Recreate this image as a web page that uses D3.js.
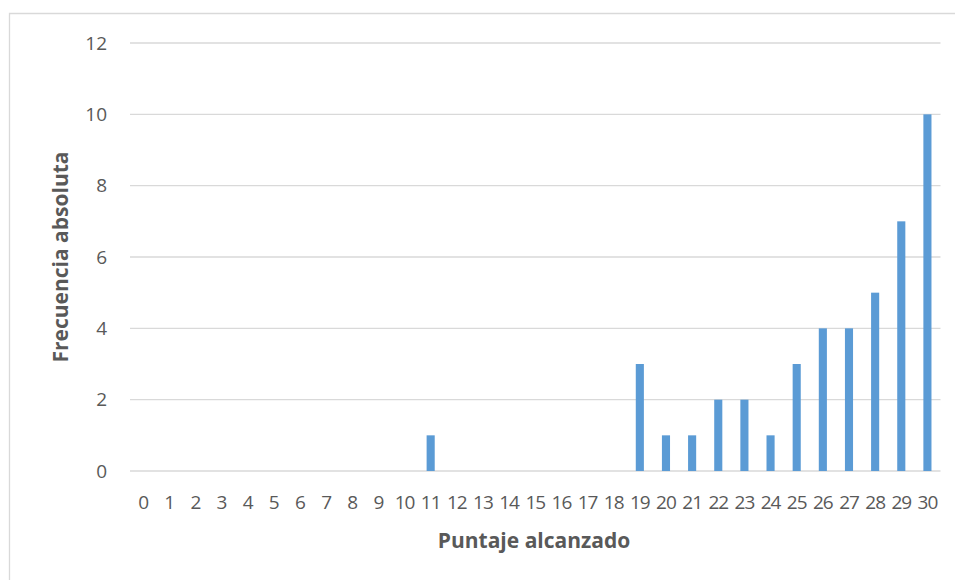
<!DOCTYPE html>
<html>
<head>
<meta charset="utf-8">
<script src="https://cdn.jsdelivr.net/npm/d3@7"></script>
<style>
  body { margin: 0; background: #fff; }
  text { font-family: "Open Sans", "Noto Sans", sans-serif; fill: #595959; }
</style>
</head>
<body>
<script>
// data
var puntajes = d3.range(0, 31);
var frecuencias = [0, 0, 0, 0, 0, 0, 0, 0, 0, 0, 0, 1, 0, 0, 0, 0, 0, 0, 0, 3, 1, 1, 2, 2, 1, 3, 4, 4, 5, 7, 10];
var yTicks = [0, 2, 4, 6, 8, 10, 12];

var dataset = puntajes.map((p, i) => [p, frecuencias[i]]);

var svgWidth = 955, svgHeight = 580;
var plotLeft = 130, plotRight = 940.5, plotTop = 43, plotBottom = 471;

var svg = d3.select('body')
    .append('svg')
    .attr('width', svgWidth)
    .attr('height', svgHeight);

// chart frame
svg.append('path')
    .attr('d', `M9.5,${svgHeight + 2} V13.5 H${svgWidth + 2}`)
    .attr('fill', 'none')
    .attr('stroke', '#d9d9d9')
    .attr('stroke-width', 1.3);

// scales
var xScale = d3.scaleBand()
    .domain(puntajes)
    .range([plotLeft, plotRight])
    .paddingInner(0.69)
    .paddingOuter(0.345);

var yScale = d3.scaleLinear()
    .domain([0, 12])
    .range([plotBottom, plotTop]);

// gridlines
svg.append('g')
    .selectAll('line')
    .data(yTicks)
    .enter()
    .append('line')
    .attr('x1', plotLeft)
    .attr('x2', plotRight)
    .attr('y1', d => yScale(d))
    .attr('y2', d => yScale(d))
    .attr('stroke', '#d9d9d9')
    .attr('stroke-width', 1.3);

// y axis labels
var yAxis = d3.axisLeft(yScale).tickValues(yTicks).tickSize(0).tickPadding(0);
svg.append('g')
    .attr('transform', `translate(107, 0)`)
    .call(yAxis)
    .call(g => g.select('.domain').remove())
    .selectAll('text')
    .style('font-size', '19px')
    .attr('fill', '#595959');

// bars
svg.append('g')
    .selectAll('rect')
    .data(dataset)
    .enter()
    .append('rect')
    .attr('x', d => xScale(d[0]))
    .attr('y', d => yScale(d[1]))
    .attr('width', xScale.bandwidth())
    .attr('height', d => plotBottom - yScale(d[1]))
    .attr('fill', '#5b9bd5');

// x axis labels
var xAxis = d3.axisBottom(xScale).tickSize(0).tickPadding(0);
svg.append('g')
    .attr('transform', `translate(0, 495)`)
    .call(xAxis)
    .call(g => g.select('.domain').remove())
    .selectAll('text')
    .style('font-size', '19px')
    .style('letter-spacing', '-1px')
    .attr('fill', '#595959')
    .attr('dy', '0.71em');

// axis titles
svg.append('text')
    .attr('x', 534)
    .attr('y', 548)
    .attr('text-anchor', 'middle')
    .style('font-size', '21px')
    .style('font-weight', 'bold')
    .text('Puntaje alcanzado');

svg.append('text')
    .attr('transform', `translate(68, 257) rotate(-90)`)
    .attr('text-anchor', 'middle')
    .style('font-size', '21px')
    .style('font-weight', 'bold')
    .text('Frecuencia absoluta');
</script>
</body>
</html>
